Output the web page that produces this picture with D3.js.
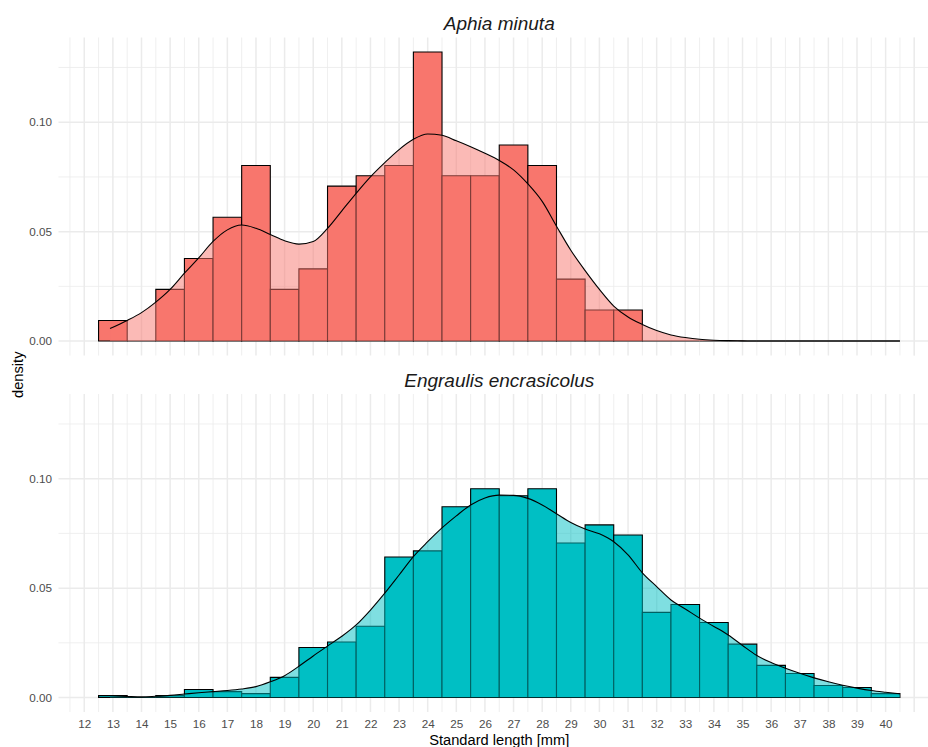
<!DOCTYPE html>
<html>
<head>
<meta charset="utf-8">
<script src="https://cdn.jsdelivr.net/npm/d3@7"></script>
<style>
  body { margin: 0; background: #fff; }
  svg { display: block; }
  text { font-family: "Liberation Sans", Arial, sans-serif; }
</style>
</head>
<body>
<svg id="chart" width="928" height="747"></svg>
<script>
// Standard length bins (1 mm wide, centred on each integer)
const lengthBins = [13,14,15,16,17,18,19,20,21,22,23,24,25,26,27,28,29,30,31,32,33,34,35,36,37,38,39,40];

// Histogram densities per bin
const aphiaDensity = [0.0094,0,0.0236,0.0377,0.0566,0.0802,0.0236,0.0330,0.0708,0.0755,0.0802,0.1321,0.0755,0.0755,
                      0.0896,0.0802,0.0283,0.0142,0.0142,0,0,0,0,0,0,0,0,0];
const engraulisDensity = [0.0009,0,0.0009,0.0037,0.0027,0.0018,0.0092,0.0229,0.0254,0.0326,0.0642,0.0670,0.0872,0.0954,
                          0.0922,0.0954,0.0706,0.0789,0.0743,0.0389,0.0425,0.0343,0.0244,0.0147,0.0110,0.0055,0.0046,0.0018];

// Kernel density estimate, sampled along the length axis
const kdeLength = [12.9,13.5,14,14.5,15,15.5,16,16.5,17,17.5,18,18.5,19,19.5,20,20.5,21,21.5,22,22.5,
                   23,23.5,24,24.5,25,25.5,26,26.5,27,27.5,28,28.5,29,29.5,30,30.5,31,31.5,32,32.5,
                   33,33.5,34,34.5,35,35.5,36,36.5,37,37.5,38,38.5,39,39.5,40,40.5];
const aphiaKde = [0.0057,0.0094,0.0130,0.0178,0.0236,0.0310,0.0380,0.0455,0.0508,0.0530,0.0515,0.0487,0.0458,0.0443,
                  0.0455,0.0515,0.0595,0.0675,0.0750,0.0815,0.0875,0.0922,0.0946,0.0940,0.0915,0.0888,0.0858,0.0825,
                  0.0782,0.0718,0.0638,0.0525,0.0415,0.0322,0.0236,0.0160,0.0110,0.0076,0.0048,0.0028,0.0016,0.0008,
                  0.0004,0.0002,0.0001,0,0,0,0,0,0,0,0,0,0,0];
const engraulisKde = [0.0008,0.0005,0.0003,0.0006,0.0010,0.0016,0.0022,0.0027,0.0032,0.0039,0.0050,0.0072,0.0100,0.0143,
                      0.0190,0.0235,0.0280,0.0332,0.0400,0.0477,0.0560,0.0644,0.0712,0.0775,0.0830,0.0880,0.0912,0.0925,
                      0.0924,0.0910,0.0880,0.0840,0.0800,0.0770,0.0748,0.0712,0.0652,0.0570,0.0507,0.0446,0.0405,0.0363,
                      0.0325,0.0286,0.0238,0.0192,0.0160,0.0134,0.0111,0.0090,0.0072,0.0056,0.0043,0.0032,0.0024,0.0017];

// Axis ticks
const xTicks = [12,13,14,15,16,17,18,19,20,21,22,23,24,25,26,27,28,29,30,31,32,33,34,35,36,37,38,39,40];
const yTicks = [0, 0.05, 0.10];
const yMinorTicks = [0.025, 0.075, 0.125];

const panels = [
  { title: "Aphia minuta", bars: aphiaDensity, kde: aphiaKde, color: "#F8766D", top: 37.5, bottom: 355.5 },
  { title: "Engraulis encrasicolus", bars: engraulisDensity, kde: engraulisKde, color: "#00BFC4", top: 394, bottom: 712 }
];

const svg = d3.select("#chart");
const left = 58.5, right = 940;

const x = d3.scaleLinear().domain([11.1, 41.9]).range([left, right]);
const xMajor = d3.range(12, 42);
const xMinor = d3.range(11.5, 41.5, 1).concat([41]);

panels.forEach(p => {
  const y = d3.scaleLinear().domain([-0.0066, 0.1387]).range([p.bottom, p.top]);
  const g = svg.append("g");

  // grid
  const grid = g.append("g");
  grid.selectAll(".vminor").data(xMinor).join("line")
    .attr("x1", d => x(d)).attr("x2", d => x(d)).attr("y1", p.top).attr("y2", p.bottom)
    .attr("stroke", "#EBEBEB").attr("stroke-width", 0.8);
  grid.selectAll(".hminor").data(yMinorTicks).join("line")
    .attr("x1", left).attr("x2", right).attr("y1", d => y(d)).attr("y2", d => y(d))
    .attr("stroke", "#EBEBEB").attr("stroke-width", 0.8);
  grid.selectAll(".vmajor").data(xMajor).join("line")
    .attr("x1", d => x(d)).attr("x2", d => x(d)).attr("y1", p.top).attr("y2", p.bottom)
    .attr("stroke", "#EBEBEB").attr("stroke-width", 1.5);
  grid.selectAll(".hmajor").data(yTicks).join("line")
    .attr("x1", left).attr("x2", right).attr("y1", d => y(d)).attr("y2", d => y(d))
    .attr("stroke", "#EBEBEB").attr("stroke-width", 1.5);

  // histogram bars
  const bins = lengthBins.map((c, i) => ({ x0: c - 0.5, x1: c + 0.5, v: p.bars[i] }));
  g.append("g").selectAll("path").data(bins).join("path")
    .attr("d", b => `M${x(b.x0)},${y(0)}V${y(b.v)}H${x(b.x1)}V${y(0)}Z`)
    .attr("fill", p.color)
    .attr("stroke", "#000")
    .attr("stroke-width", 1.1);

  // density
  const pts = kdeLength.map((l, i) => [l, p.kde[i]]);
  const area = d3.area().x(d => x(d[0])).y0(y(0)).y1(d => y(d[1])).curve(d3.curveMonotoneX);
  const line = d3.line().x(d => x(d[0])).y(d => y(d[1])).curve(d3.curveMonotoneX);
  g.append("path").datum(pts).attr("d", area).attr("fill", p.color).attr("fill-opacity", 0.5);
  g.append("path").datum(pts).attr("d", line).attr("fill", "none").attr("stroke", "#000").attr("stroke-width", 1.1);

  // y axis
  const ya = g.append("g").attr("transform", `translate(${left},0)`)
    .call(d3.axisLeft(y).tickValues(yTicks).tickSize(0).tickPadding(6.6).tickFormat(d3.format(".2f")));
  ya.select(".domain").remove();
  ya.selectAll("text").attr("fill", "#4D4D4D").attr("font-size", 11.7)
    .attr("font-family", "Liberation Sans, Arial, sans-serif");

  // panel title
  svg.append("text")
    .attr("x", (left + right) / 2).attr("y", p.top - 7.5)
    .attr("text-anchor", "middle")
    .attr("font-size", 19).attr("font-style", "italic").attr("fill", "#1A1A1A")
    .text(p.title);
});

// x axis under the lower panel
const xa = svg.append("g").attr("transform", `translate(0,${panels[1].bottom})`)
  .call(d3.axisBottom(x).tickValues(xTicks).tickSize(0).tickPadding(7.2).tickFormat(d3.format("d")));
xa.select(".domain").remove();
xa.selectAll("text").attr("fill", "#4D4D4D").attr("font-size", 11.7)
  .attr("font-family", "Liberation Sans, Arial, sans-serif");

// axis titles
svg.append("text")
  .attr("x", (left + right) / 2).attr("y", 744.5)
  .attr("text-anchor", "middle").attr("font-size", 14.67).attr("fill", "#000")
  .text("Standard length [mm]");
svg.append("text")
  .attr("transform", `translate(22.5,${(panels[0].top + panels[1].bottom) / 2}) rotate(-90)`)
  .attr("text-anchor", "middle").attr("font-size", 14.67).attr("fill", "#000")
  .text("density");
</script>
</body>
</html>
